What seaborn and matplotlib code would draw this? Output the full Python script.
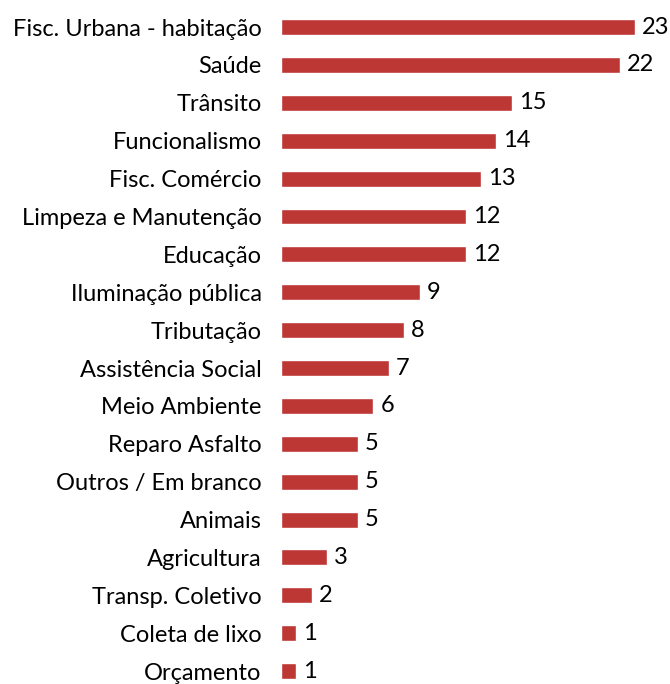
import matplotlib
matplotlib.use("Agg")
import matplotlib.pyplot as plt
import seaborn as sns
import pandas as pd

categories = [
    "Fisc. Urbana - habitação", "Saúde", "Trânsito", "Funcionalismo",
    "Fisc. Comércio", "Limpeza e Manutenção", "Educação", "Iluminação pública",
    "Tributação", "Assistência Social", "Meio Ambiente", "Reparo Asfalto",
    "Outros / Em branco", "Animais", "Agricultura", "Transp. Coletivo",
    "Coleta de lixo", "Orçamento",
]
values = [23, 22, 15, 14, 13, 12, 12, 9, 8, 7, 6, 5, 5, 5, 3, 2, 1, 1]

df = pd.DataFrame({"categoria": categories, "valor": values})

sns.set_style("white")
plt.rcParams["font.family"] = ["Lato", "DejaVu Sans"]
plt.rcParams["text.color"] = "black"
plt.rcParams["ytick.color"] = "black"

fig = plt.figure(figsize=(6.7, 6.84), dpi=100)
ax = fig.add_axes([281 / 670, 0.0, (635 - 281) / 670, 1.0])

sns.barplot(data=df, x="valor", y="categoria", orient="h", color="#BD3835",
            saturation=1, width=0.42, ax=ax)

ax.set_xlim(0, 23)
ax.set_ylim(17.34, -0.713)
ax.set_xlabel("")
ax.set_ylabel("")
ax.set_xticks([])
ax.tick_params(axis="y", length=0, pad=14, labelsize=17)
for s in ax.spines.values():
    s.set_visible(False)

for i, v in enumerate(values):
    ax.text(v + 0.45, i, str(v), va="center", ha="left", fontsize=17,
            clip_on=False)

fig.savefig("out.png", dpi=100)
